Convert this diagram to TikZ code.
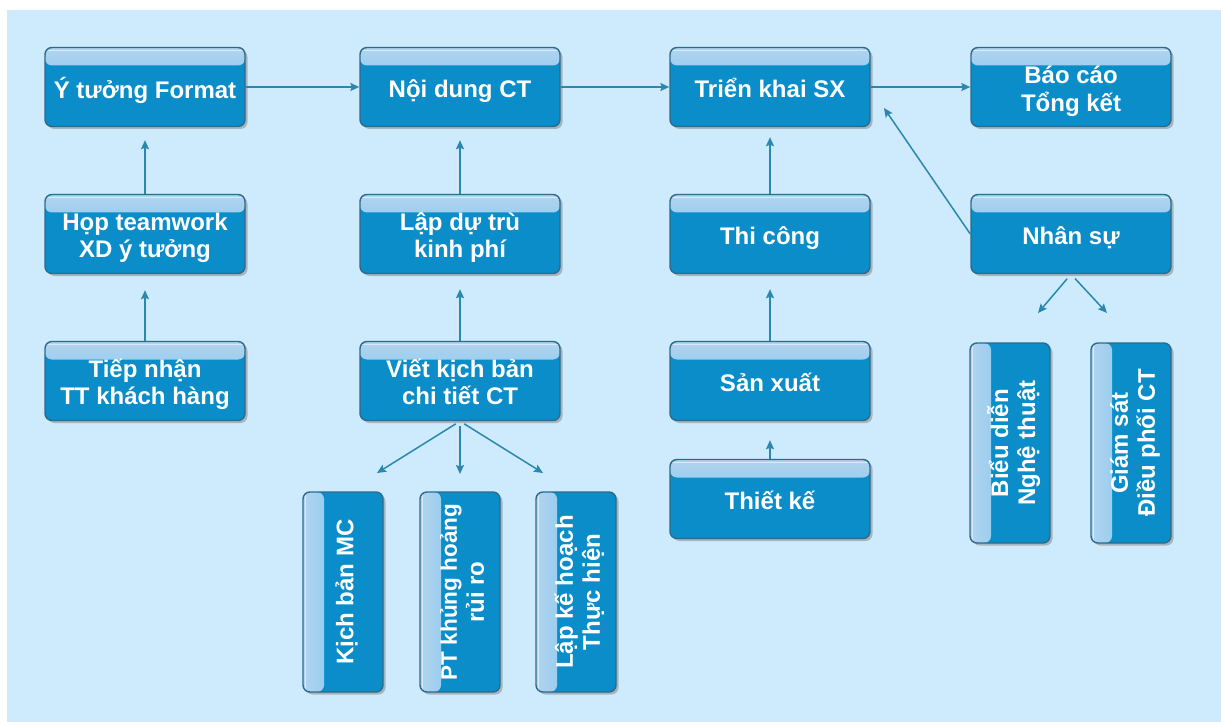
\documentclass[tikz,border=0pt]{standalone}
\usepackage{fontspec}
\setmainfont{Liberation Sans}
\usepackage{graphicx}
\usetikzlibrary{arrows.meta,shadows}
\definecolor{bg}{HTML}{CDEBFC}
\definecolor{boxfill}{HTML}{0A8DC9}
\definecolor{boxline}{HTML}{2E6A8A}
\definecolor{bandA}{HTML}{B2D4EF}
\definecolor{bandB}{HTML}{5ABCF0}
\definecolor{arr}{HTML}{2B86B0}
\tikzset{
  boxbase/.style={draw=boxline, line width=1.4pt, rounded corners=7pt, fill=boxfill,
    inner sep=0pt, text=white, font=\bfseries\fontsize{24}{27}\selectfont, align=center,
    drop shadow={shadow xshift=2.5pt, shadow yshift=-2.5pt, fill=black!50, opacity=0.5}},
  hbox/.style={boxbase, minimum width=200pt, minimum height=79pt,
    path picture={
      \shade[top color=bandA, bottom color=bandB]
        (path picture bounding box.north west) rectangle ([yshift=-18pt]path picture bounding box.north east);
      \draw[white!50!bandA, line width=0.8pt]
        ([yshift=-2.5pt]path picture bounding box.north west) -- ([yshift=-2.5pt]path picture bounding box.north east);}},
  vbox/.style={boxbase, minimum width=80pt, minimum height=200pt,
    path picture={
      \shade[left color=bandA, right color=bandB]
        (path picture bounding box.north west) rectangle ([xshift=21pt]path picture bounding box.south west);
      \draw[white!50!bandA, line width=0.8pt]
        ([xshift=2.5pt]path picture bounding box.north west) -- ([xshift=2.5pt]path picture bounding box.south west);}},
  arrowline/.style={draw=arr, line width=1.5pt, -{Stealth[length=9pt,width=8pt,inset=1.5pt]}},
}
\newcommand{\htext}[1]{\raisebox{-5pt}[\height][\depth]{\begin{tabular}{@{}c@{}}#1\end{tabular}}}
\newcommand{\vtext}[1]{\hspace*{10pt}\rotatebox{90}{\begin{tabular}{@{}c@{}}#1\end{tabular}}}
\begin{document}
\begin{tikzpicture}[x=1pt,y=-1pt]
\useasboundingbox (0,0) rectangle (1221,722);
\fill[white] (0,0) rectangle (1221,722);
\fill[bg] (7,10) rectangle (1221,722);

% row 1
\node[hbox] (fmt) at (145,87) {\htext{Ý tưởng Format}};
\node[hbox] (nd) at (460,87) {\htext{Nội dung CT}};
\node[hbox] (tk) at (770,87) {\htext{Triển khai SX}};
\node[hbox] (bc) at (1071,87) {\htext{Báo cáo\\Tổng kết}};
% row 2
\node[hbox] (hop) at (145,234) {\htext{Họp teamwork\\XD ý tưởng}};
\node[hbox] (lap) at (460,234) {\htext{Lập dự trù\\kinh phí}};
\node[hbox] (tc) at (770,234) {\htext{Thi công}};
\node[hbox] (ns) at (1071,234) {\htext{Nhân sự}};
% row 3
\node[hbox] (tn) at (145,381) {\htext{Tiếp nhận\\TT khách hàng}};
\node[hbox] (vkb) at (460,381) {\htext{Viết kịch bản\\chi tiết CT}};
\node[hbox] (sx) at (770,381) {\htext{Sản xuất}};
\node[hbox] (tkk) at (770,499) {\htext{Thiết kế}};
% vertical boxes
\node[vbox] (kmc) at (343,592) {\vtext{Kịch bản MC}};
\node[vbox] (pt) at (460,592) {\vtext{\fontsize{22.5}{27}\selectfont PT khủng hoảng\\rủi ro}};
\node[vbox] (lkh) at (576,592) {\vtext{Lập kế hoạch\\Thực hiện}};
\node[vbox] (bd) at (1010,443) {\vtext{Biểu diễn\\Nghệ thuật}};
\node[vbox] (gs) at (1131,443) {\vtext{Giám sát\\Điều phối CT}};

% free ends
\coordinate (nstip) at (884,108);
\coordinate (k1) at (377,473);
\coordinate (k2) at (460,474);
\coordinate (k3) at (543,473);
\coordinate (n1) at (1038,313);
\coordinate (n2) at (1107,313);

% connectors
\draw[arrowline] (fmt.east) -- (nd.west);
\draw[arrowline] (nd.east) -- (tk.west);
\draw[arrowline] (tk.east) -- (bc.west);
\draw[arrowline] (ns.west) -- (nstip);
\draw[arrowline, shorten >=13pt] (hop.north) -- (fmt.south);
\draw[arrowline, shorten >=16pt] (tn.north) -- (hop.south);
\draw[arrowline, shorten >=13pt] (lap.north) -- (nd.south);
\draw[arrowline, shorten >=15pt] (vkb.north) -- (lap.south);
\draw[arrowline, shorten >=10pt] (tc.north) -- (tk.south);
\draw[arrowline, shorten >=15pt] (sx.north) -- (tc.south);
\draw[arrowline, shorten >=19pt] (tkk.north) -- (sx.south);
\draw[arrowline, shorten <=5pt] (vkb.south) -- (k1);
\draw[arrowline, shorten <=5pt] (vkb.south) -- (k2);
\draw[arrowline, shorten <=5pt] (vkb.south) -- (k3);
\draw[arrowline, shorten <=6pt] (ns.south) -- (n1);
\draw[arrowline, shorten <=6pt] (ns.south) -- (n2);
\end{tikzpicture}
\end{document}
